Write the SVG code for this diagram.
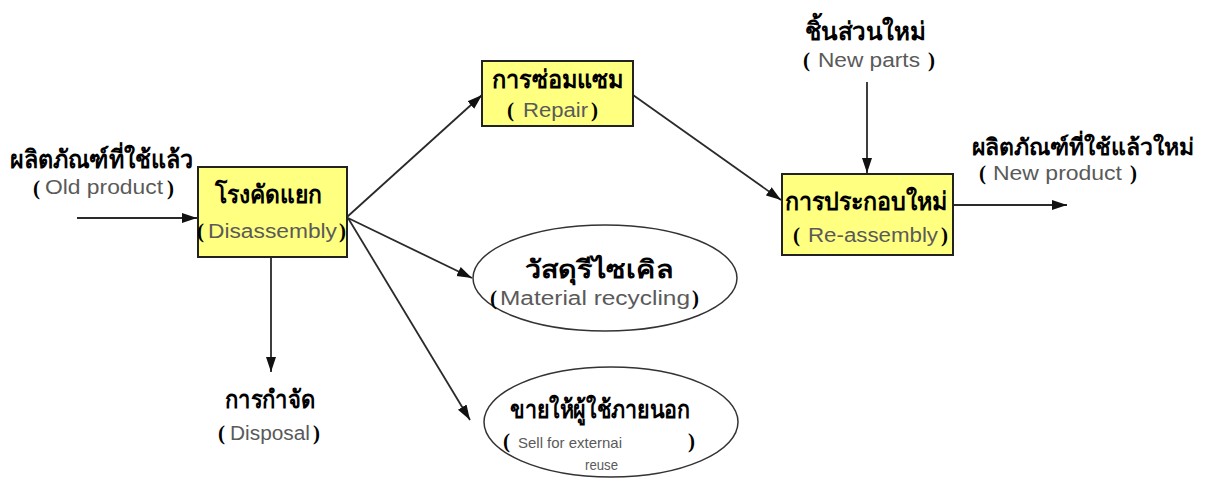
<svg xmlns="http://www.w3.org/2000/svg" width="1206" height="494" viewBox="0 0 1206 494">
  <style>
    .box { fill: #ffff80; stroke: #222; stroke-width: 2; }
    .ell { fill: #fff; stroke: #333; stroke-width: 1.5; }
    .th { font-family: "Liberation Serif", "DejaVu Serif", serif; font-weight: bold; font-size: 25px; fill: #000; }
    .en { font-family: "Liberation Sans", Arial, sans-serif; font-size: 20px; fill: #5a5a5a; }
    .sm { font-size: 15px; }
    .par { font-family: "Liberation Serif", serif; font-weight: bold; font-size: 21px; fill: #000; }
    .con { stroke: #2a2a2a; stroke-width: 1.8; fill: none; marker-end: url(#ah); }
  </style>
  <defs>
    <marker id="ah" markerUnits="userSpaceOnUse" markerWidth="16" markerHeight="12" refX="15" refY="6" orient="auto">
      <path d="M0,1 L15,6 L0,11 Z" fill="#111"/>
    </marker>
  </defs>
  <rect width="1206" height="494" fill="#fff"/>

  <g id="connectors">
    <line class="con" x1="77" y1="218" x2="197" y2="218"/>
    <line class="con" x1="347" y1="217" x2="482" y2="95"/>
    <line class="con" x1="348" y1="218" x2="472" y2="278"/>
    <line class="con" x1="348" y1="218" x2="470" y2="420"/>
    <line class="con" x1="271" y1="257" x2="271" y2="372"/>
    <line class="con" x1="633" y1="95" x2="781" y2="200"/>
    <line class="con" x1="867" y1="82" x2="867" y2="173"/>
    <line class="con" x1="953" y1="205" x2="1067" y2="205"/>
  </g>

  <g id="old-product">
    <text class="th" x="10" y="168" textLength="183" lengthAdjust="spacingAndGlyphs">ผลิตภัณฑ์ที่ใช้แล้ว</text>
    <text class="par" x="33" y="195">(</text>
    <text class="en" x="45" y="194" textLength="118" lengthAdjust="spacingAndGlyphs">Old product</text>
    <text class="par" x="167" y="195">)</text>
  </g>

  <g id="disassembly">
    <rect class="box" x="198" y="167" width="149" height="90"/>
    <text class="th" x="215" y="203" textLength="107" lengthAdjust="spacingAndGlyphs">โรงคัดแยก</text>
    <text class="par" x="197" y="238">(</text>
    <text class="en" x="208" y="238" textLength="129" lengthAdjust="spacingAndGlyphs">Disassembly</text>
    <text class="par" x="339" y="238">)</text>
  </g>

  <g id="repair">
    <rect class="box" x="482" y="61" width="151" height="65"/>
    <text class="th" x="492" y="88" textLength="131" lengthAdjust="spacingAndGlyphs">การซ่อมแซม</text>
    <text class="par" x="507" y="117">(</text>
    <text class="en" x="523" y="117" textLength="65" lengthAdjust="spacingAndGlyphs">Repair</text>
    <text class="par" x="591" y="117">)</text>
  </g>

  <g id="reassembly">
    <rect class="box" x="782" y="174" width="171" height="81"/>
    <text class="th" x="785" y="210" textLength="162" lengthAdjust="spacingAndGlyphs">การประกอบใหม่</text>
    <text class="par" x="793" y="242">(</text>
    <text class="en" x="808" y="242" textLength="130" lengthAdjust="spacingAndGlyphs">Re-assembly</text>
    <text class="par" x="941" y="242">)</text>
  </g>

  <g id="new-parts">
    <text class="th" x="805" y="40" textLength="120" lengthAdjust="spacingAndGlyphs">ชิ้นส่วนใหม่</text>
    <text class="par" x="803" y="67">(</text>
    <text class="en" x="818" y="67" textLength="102" lengthAdjust="spacingAndGlyphs">New parts</text>
    <text class="par" x="928" y="67">)</text>
  </g>

  <g id="new-product">
    <text class="th" x="1194" y="155" text-anchor="end" textLength="222" lengthAdjust="spacingAndGlyphs" style="font-size:23px">ผลิตภัณฑ์ที่ใช้แล้วใหม่</text>
    <text class="par" x="979" y="180">(</text>
    <text class="en" x="993" y="180" textLength="129" lengthAdjust="spacingAndGlyphs">New product</text>
    <text class="par" x="1130" y="180">)</text>
  </g>

  <g id="material-recycling">
    <ellipse class="ell" cx="605" cy="278" rx="132" ry="53"/>
    <text class="th" x="525" y="278" textLength="148" lengthAdjust="spacingAndGlyphs">วัสดุรีไซเคิล</text>
    <text class="par" x="490" y="305">(</text>
    <text class="en" x="500" y="305" textLength="190" lengthAdjust="spacingAndGlyphs">Material recycling</text>
    <text class="par" x="692" y="305">)</text>
  </g>

  <g id="sell-external">
    <ellipse class="ell" cx="611" cy="422" rx="127" ry="55"/>
    <text class="th" x="510" y="418" textLength="180" lengthAdjust="spacingAndGlyphs">ขายให้ผู้ใช้ภายนอก</text>
    <text class="par" x="503" y="448">(</text>
    <text class="en sm" x="518" y="448" textLength="104" lengthAdjust="spacingAndGlyphs">Sell for externai</text>
    <text class="par" x="688" y="448">)</text>
    <text class="en sm" x="585" y="470" textLength="33" lengthAdjust="spacingAndGlyphs">reuse</text>
  </g>

  <g id="disposal">
    <text class="th" x="225" y="408" textLength="90" lengthAdjust="spacingAndGlyphs">การกำจัด</text>
    <text class="par" x="218" y="440">(</text>
    <text class="en" x="230" y="440" textLength="80" lengthAdjust="spacingAndGlyphs">Disposal</text>
    <text class="par" x="313" y="440">)</text>
  </g>
</svg>
